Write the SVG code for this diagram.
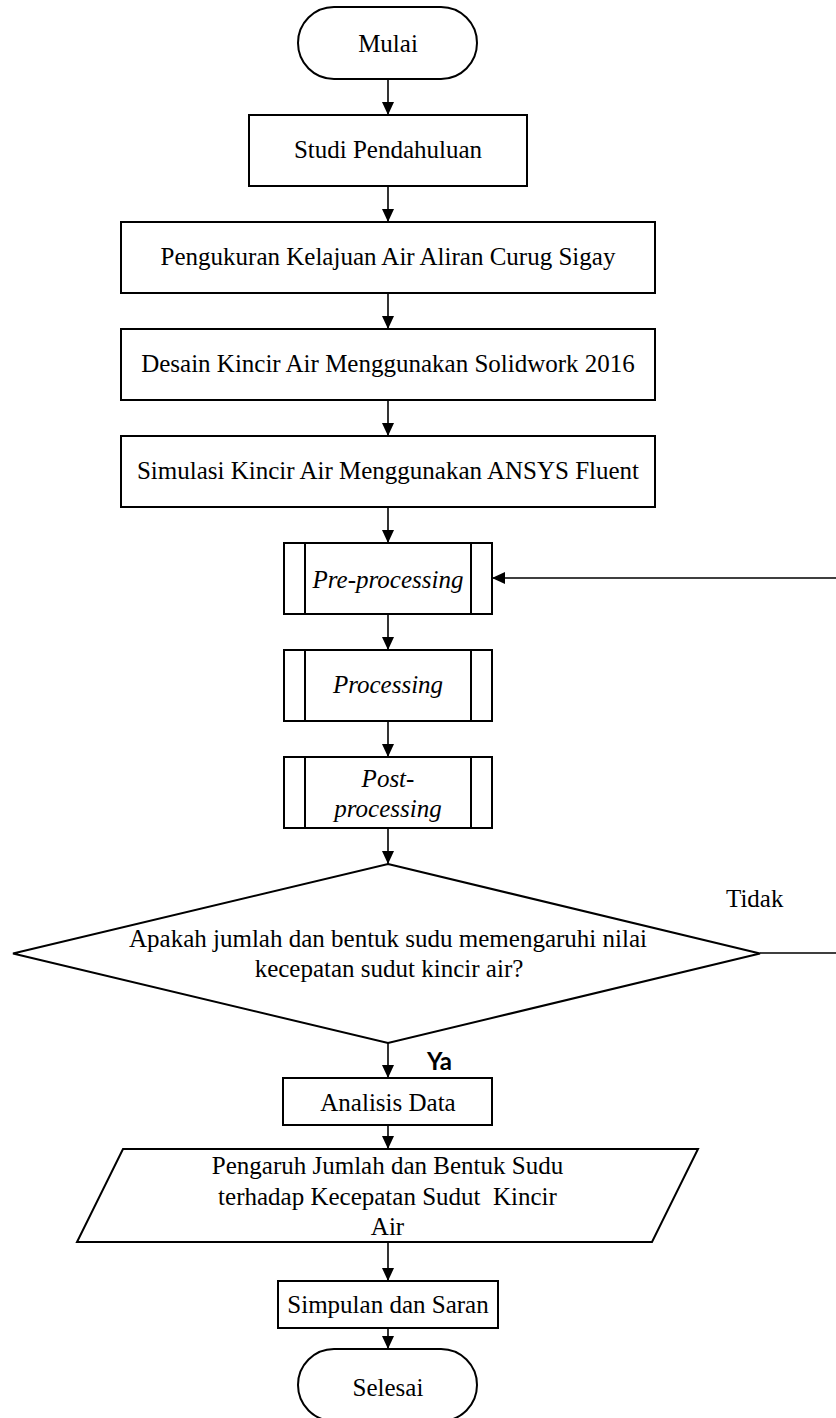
<svg xmlns="http://www.w3.org/2000/svg" width="836" height="1418" viewBox="0 0 836 1418">
<defs>
<marker id="arr" viewBox="0 0 13 12" refX="13" refY="6" markerWidth="13" markerHeight="12" orient="auto" markerUnits="userSpaceOnUse"><path d="M0,0 L13,6 L0,12 Z" fill="#000"/></marker>
<style>
.s{fill:#fff;stroke:#000;stroke-width:2}
.c{fill:none;stroke:#000;stroke-width:1.6}
.t{font-family:"Liberation Serif","Times New Roman",serif;font-size:25px;fill:#000;text-anchor:middle}
.i{font-style:italic}
.ya{font-family:Lato,"Liberation Sans",sans-serif;font-size:24px;font-weight:bold;fill:#000}
</style>
</defs>
<rect width="836" height="1418" fill="#fff"/>
<g id="connectors">
<line class="c" x1="388" y1="79" x2="388" y2="115" marker-end="url(#arr)"/>
<line class="c" x1="388" y1="186" x2="388" y2="222" marker-end="url(#arr)"/>
<line class="c" x1="388" y1="293" x2="388" y2="329" marker-end="url(#arr)"/>
<line class="c" x1="388" y1="400" x2="388" y2="436" marker-end="url(#arr)"/>
<line class="c" x1="388" y1="507" x2="388" y2="543" marker-end="url(#arr)"/>
<line class="c" x1="388" y1="614" x2="388" y2="650" marker-end="url(#arr)"/>
<line class="c" x1="388" y1="721" x2="388" y2="757" marker-end="url(#arr)"/>
<line class="c" x1="388" y1="828" x2="388" y2="864" marker-end="url(#arr)"/>
<line class="c" x1="388" y1="1043" x2="388" y2="1078" marker-end="url(#arr)"/>
<line class="c" x1="388" y1="1125" x2="388" y2="1149" marker-end="url(#arr)"/>
<line class="c" x1="388" y1="1242" x2="388" y2="1281" marker-end="url(#arr)"/>
<line class="c" x1="388" y1="1328" x2="388" y2="1349" marker-end="url(#arr)"/>
<path class="c" d="M760,953 H838 V578 H492" marker-end="url(#arr)"/>
<text class="t" x="726" y="907" style="text-anchor:start">Tidak</text>
<text class="ya" x="427" y="1070">Ya</text>
</g>
<g id="mulai">
<rect class="s" x="298" y="7" width="179" height="72" rx="36" ry="36"/>
<text class="t" x="388" y="52">Mulai</text>
</g>
<g id="studi">
<rect class="s" x="249" y="115" width="278" height="71"/>
<text class="t" x="388" y="158">Studi Pendahuluan</text>
</g>
<g id="pengukuran">
<rect class="s" x="121" y="222" width="534" height="71"/>
<text class="t" x="388" y="265">Pengukuran Kelajuan Air Aliran Curug Sigay</text>
</g>
<g id="desain">
<rect class="s" x="121" y="329" width="534" height="71"/>
<text class="t" x="388" y="372">Desain Kincir Air Menggunakan Solidwork 2016</text>
</g>
<g id="simulasi">
<rect class="s" x="121" y="436" width="534" height="71"/>
<text class="t" x="388" y="479">Simulasi Kincir Air Menggunakan ANSYS Fluent</text>
</g>
<g id="preprocessing">
<rect class="s" x="284" y="543" width="208" height="71"/>
<line class="s" x1="305" y1="543" x2="305" y2="614"/>
<line class="s" x1="471" y1="543" x2="471" y2="614"/>
<text class="t i" x="388" y="588">Pre-processing</text>
</g>
<g id="processing">
<rect class="s" x="284" y="650" width="208" height="71"/>
<line class="s" x1="305" y1="650" x2="305" y2="721"/>
<line class="s" x1="471" y1="650" x2="471" y2="721"/>
<text class="t i" x="388" y="693">Processing</text>
</g>
<g id="postprocessing">
<rect class="s" x="284" y="757" width="208" height="71"/>
<line class="s" x1="305" y1="757" x2="305" y2="828"/>
<line class="s" x1="471" y1="757" x2="471" y2="828"/>
<text class="t i" x="388" y="787">Post-</text>
<text class="t i" x="388" y="817">processing</text>
</g>
<g id="keputusan">
<polygon class="s" points="388,864 760,953.5 388,1043 13,953.5"/>
<text class="t" x="388" y="947">Apakah jumlah dan bentuk sudu memengaruhi nilai</text>
<text class="t" x="389" y="977">kecepatan sudut kincir air?</text>
</g>
<g id="analisis">
<rect class="s" x="283" y="1078" width="209" height="47"/>
<text class="t" x="388" y="1111">Analisis Data</text>
</g>
<g id="pengaruh">
<polygon class="s" points="123,1149 698,1149 652,1242 77,1242"/>
<text class="t" x="387.5" y="1174">Pengaruh Jumlah dan Bentuk Sudu</text>
<text class="t" x="387.5" y="1205" xml:space="preserve">terhadap Kecepatan Sudut  Kincir</text>
<text class="t" x="387.5" y="1235">Air</text>
</g>
<g id="simpulan">
<rect class="s" x="278" y="1281" width="220" height="47"/>
<text class="t" x="388" y="1313">Simpulan dan Saran</text>
</g>
<g id="selesai">
<rect class="s" x="298" y="1349" width="179" height="72" rx="36" ry="36"/>
<text class="t" x="388" y="1396">Selesai</text>
</g>
</svg>
